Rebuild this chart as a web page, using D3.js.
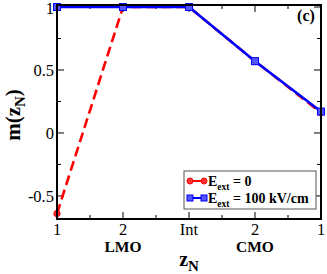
<!DOCTYPE html>
<html>
<head>
<meta charset="utf-8">
<script src="https://cdn.jsdelivr.net/npm/d3@7"></script>
<style>
body { margin: 0; background: #fff; }
text { font-family: "Liberation Serif", "Times New Roman", serif; }
</style>
</head>
<body>
<script>
// data
var xLabels = ["1", "2", "Int", "2", "1"];
var xPos = [0, 1, 2, 3, 4];
var mZero = [-0.64, 1, 1, 0.57, 0.16];
var mField = [1, 1, 1, 0.57, 0.17];
var yTicks = [-0.5, 0, 0.5, 1];
var yMinor = [-0.25, 0.25, 0.75];
var xMinor = [0.5, 1.5, 2.5, 3.5];

var width = 327, height = 274;
var padL = 57, padR = 321, padT = 5, padB = 219;

var svg = d3.select("body").append("svg")
    .attr("width", width)
    .attr("height", height);

var x = d3.scaleLinear().domain([0, 4]).range([padL, padR]);
var y = d3.scaleLinear().domain([-0.683, 1.016]).range([padB, padT]);

/* ticks, inside, on all four sides */
var g = svg.append("g").attr("stroke", "#000").attr("stroke-width", 1);
yTicks.forEach(function(v){
    g.append("line").attr("x1", padL).attr("x2", padL + 7).attr("y1", y(v)).attr("y2", y(v));
    g.append("line").attr("x1", padR).attr("x2", padR - 7).attr("y1", y(v)).attr("y2", y(v));
});
yMinor.forEach(function(v){
    g.append("line").attr("x1", padL).attr("x2", padL + 4).attr("y1", y(v)).attr("y2", y(v));
    g.append("line").attr("x1", padR).attr("x2", padR - 4).attr("y1", y(v)).attr("y2", y(v));
});
xPos.forEach(function(v){
    g.append("line").attr("x1", x(v)).attr("x2", x(v)).attr("y1", padB).attr("y2", padB - 7);
    g.append("line").attr("x1", x(v)).attr("x2", x(v)).attr("y1", padT).attr("y2", padT + 7);
});
xMinor.forEach(function(v){
    g.append("line").attr("x1", x(v)).attr("x2", x(v)).attr("y1", padB).attr("y2", padB - 4);
    g.append("line").attr("x1", x(v)).attr("x2", x(v)).attr("y1", padT).attr("y2", padT + 4);
});

/* tick labels */
yTicks.forEach(function(v){
    svg.append("text")
	.attr("x", padL - 3)
	.attr("y", Math.max(y(v) + 6, 14))
	.attr("text-anchor", "end")
	.attr("font-size", 16.5)
	.text(v);
});
xPos.forEach(function(v, i){
    svg.append("text")
	.attr("x", x(v))
	.attr("y", padB + 16)
	.attr("text-anchor", "middle")
	.attr("font-size", 16.5)
	.text(xLabels[i]);
});
svg.append("text").attr("x", x(1)).attr("y", 252).attr("text-anchor", "middle")
    .attr("font-size", 15.5).attr("font-weight", "bold").text("LMO");
svg.append("text").attr("x", x(3)).attr("y", 252).attr("text-anchor", "middle")
    .attr("font-size", 15.5).attr("font-weight", "bold").text("CMO");

/* axis titles */
var xt = svg.append("text").attr("x", 189).attr("y", 266).attr("text-anchor", "middle")
    .attr("font-size", 20).attr("font-weight", "bold");
xt.append("tspan").text("z");
xt.append("tspan").attr("font-size", 15).attr("dy", 5).text("N");

var yt = svg.append("text")
    .attr("transform", "translate(20," + 115 + ") rotate(-90)")
    .attr("text-anchor", "middle")
    .attr("font-size", 21).attr("font-weight", "bold");
yt.append("tspan").text("m(z");
yt.append("tspan").attr("font-size", 15).attr("dy", 5).text("N");
yt.append("tspan").attr("dy", -5).text(")");

svg.append("text").attr("x", 306).attr("y", 21).attr("text-anchor", "middle")
    .attr("font-size", 16).attr("font-weight", "bold").text("(c)");

/* series */
var line = d3.line().x(function(d, i){ return x(xPos[i]); }).y(function(d){ return y(d); });

svg.append("path").datum(mZero)
    .attr("d", line)
    .attr("fill", "none")
    .attr("stroke", "#ff0000")
    .attr("stroke-width", 2.6)
    .attr("stroke-dasharray", "10,5");
svg.selectAll(".dotR").data(mZero).enter().append("circle")
    .attr("class", "dotR")
    .attr("cx", function(d, i){ return x(xPos[i]); })
    .attr("cy", function(d){ return y(d); })
    .attr("r", 3.2)
    .attr("fill", "#ff3333")
    .attr("stroke", "#ff0000");

svg.append("path").datum(mField)
    .attr("d", line)
    .attr("fill", "none")
    .attr("stroke", "#0000ff")
    .attr("stroke-width", 2.6);
svg.selectAll(".dotB").data(mField).enter().append("rect")
    .attr("class", "dotB")
    .attr("x", function(d, i){ return x(xPos[i]) - 3.5; })
    .attr("y", function(d){ return y(d) - 3.5; })
    .attr("width", 7)
    .attr("height", 7)
    .attr("fill", "#5555ff")
    .attr("stroke", "#0000ff");

/* frame */
svg.append("rect")
    .attr("x", padL).attr("y", padT)
    .attr("width", padR - padL).attr("height", padB - padT)
    .attr("fill", "none").attr("stroke", "#000").attr("stroke-width", 2);

/* legend */
var leg = svg.append("g");
leg.append("rect").attr("x", 184).attr("y", 171).attr("width", 132).attr("height", 38)
    .attr("fill", "#fff").attr("stroke", "#555").attr("stroke-width", 1);
var entries = [
    {color: "#ff0000", fill: "#ff3333", shape: "circle", label: "0", yy: 181},
    {color: "#0000ff", fill: "#5555ff", shape: "square", label: "100 kV/cm", yy: 198}
];
entries.forEach(function(e){
    leg.append("line").attr("x1", 190).attr("x2", 204).attr("y1", e.yy).attr("y2", e.yy)
	.attr("stroke", e.color).attr("stroke-width", 2);
    [190, 204].forEach(function(px){
	if(e.shape == "circle"){
	    leg.append("circle").attr("cx", px).attr("cy", e.yy).attr("r", 3).attr("fill", e.fill).attr("stroke", e.color);
	} else {
	    leg.append("rect").attr("x", px - 3).attr("y", e.yy - 3).attr("width", 6).attr("height", 6)
		.attr("fill", e.fill).attr("stroke", e.color);
	}
    });
    var t = leg.append("text").attr("x", 208).attr("y", e.yy + 5)
	.attr("font-size", 14).attr("font-weight", "bold");
    t.append("tspan").text("E");
    t.append("tspan").attr("font-size", 9.5).attr("dy", 4).text("ext");
    t.append("tspan").attr("dy", -4).text(" = " + e.label);
});
</script>
</body>
</html>
